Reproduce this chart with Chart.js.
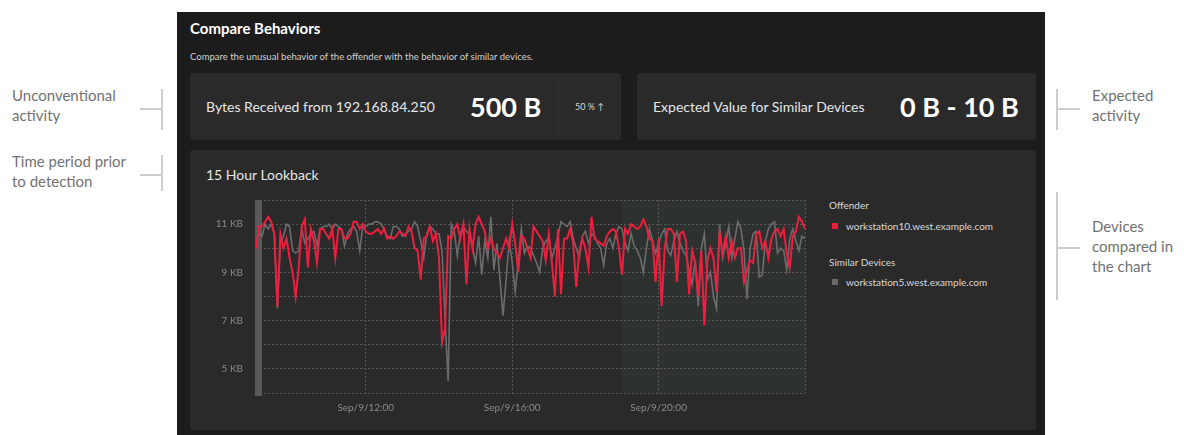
<!DOCTYPE html>
<html>
<head>
<meta charset="utf-8">
<script src="https://cdn.jsdelivr.net/npm/chart.js@4"></script>
<style>
  body { margin: 0; background: #fff; font-family: Lato, sans-serif; width: 1184px; height: 435px; overflow: hidden; position: relative; }
  .abs { position: absolute; }
  .note { color: #727272; font-size: 15px; line-height: 20px; }
  .vline { background: #cdcdcd; width: 2px; }
  .hline { background: #cdcdcd; height: 2px; }
  #panel { left: 177px; top: 12px; width: 868px; height: 423px; background: #1c1c1c; }
  .card { background: #2a2a2a; border-radius: 3px; }
  .lbl { color: #e6e6e6; font-size: 14px; }
  .big { color: #fff; font-size: 27px; font-weight: bold; }
  .leg { color: #d8d8d8; font-size: 10px; }
  .sq { width: 6px; height: 6px; }
</style>
</head>
<body>
<div class="abs note" style="left:12px;top:85px">Unconventional<br>activity</div>
<div class="abs vline" style="left:161px;top:89px;height:41px"></div>
<div class="abs hline" style="left:140px;top:108px;width:22px"></div>
<div class="abs note" style="left:12px;top:151px">Time period prior<br>to detection</div>
<div class="abs vline" style="left:161px;top:155px;height:36px"></div>
<div class="abs hline" style="left:140px;top:174px;width:22px"></div>

<div class="abs note" style="left:1092px;top:85px">Expected<br>activity</div>
<div class="abs vline" style="left:1056px;top:89px;height:41px"></div>
<div class="abs hline" style="left:1057px;top:108px;width:23px"></div>
<div class="abs note" style="left:1092px;top:216px">Devices<br>compared in<br>the chart</div>
<div class="abs vline" style="left:1056px;top:192px;height:108px"></div>
<div class="abs hline" style="left:1057px;top:247px;width:23px"></div>

<div id="panel" class="abs"></div>
<div class="abs" style="left:190px;top:19px;color:#fff;font-size:15px;font-weight:bold">Compare Behaviors</div>
<div class="abs" style="left:190px;top:51px;color:#d0d0d0;font-size:9.5px">Compare the unusual behavior of the offender with the behavior of similar devices.</div>

<div class="abs card" style="left:190px;top:73px;width:431px;height:67px"></div>
<div class="abs lbl" style="left:206px;top:98px">Bytes Received from 192.168.84.250</div>
<div class="abs big" style="left:470px;top:90px">500 B</div>
<div class="abs" style="left:558px;top:80px;width:1px;height:54px;background:#333"></div>
<div class="abs" style="left:575px;top:101px;color:#d8d8d8;font-size:9px">50 % &#8593;</div>

<div class="abs card" style="left:637px;top:73px;width:399px;height:67px"></div>
<div class="abs lbl" style="left:653px;top:98px">Expected Value for Similar Devices</div>
<div class="abs big" style="left:900px;top:90px">0 B - 10 B</div>

<div class="abs card" style="left:190px;top:150px;width:846px;height:280px"></div>
<div class="abs lbl" style="left:206px;top:166px">15 Hour Lookback</div>

<div class="abs leg" style="left:829px;top:199px">Offender</div>
<div class="abs sq" style="left:832px;top:223px;background:#e8203a"></div>
<div class="abs leg" id="name0" style="left:846px;top:220px"></div>
<div class="abs leg" style="left:829px;top:256px">Similar Devices</div>
<div class="abs sq" style="left:832px;top:279px;background:#6a6a6a"></div>
<div class="abs leg" id="name1" style="left:846px;top:276px"></div>

<div class="abs" style="left:190px;top:181px;width:630px;height:237px">
  <canvas id="lookbackChart"></canvas>
</div>

<script>
// series names
var offenderName = 'workstation10.west.example.com';
var similarName = 'workstation5.west.example.com';

// 5 minute samples, Sep 9 09:00 -> 24:00, values in KB
var startHour = 9;
var stepMinutes = 5;
var offender = [10.0,10.9,10.9,11.1,11.3,11.1,10.6,7.6,10.6,10.0, 10.4,9.6,9.0,8.0,9.2,10.9,11.2,9.2,10.8,10.3,
  9.4,10.8,10.8,10.6,10.4,10.8,9.6,10.8,10.8,10.4, 10.4,10.6,11.1,11.1,10.8,11.0,10.7,10.6,10.6,10.7,
  10.8,10.6,10.8,10.4,10.5,10.4,10.5,10.7,10.6,10.5, 10.9,10.7,10.0,9.9,8.7,10.4,10.5,10.9,10.3,10.6,
  9.6,6.1,6.7,10.5,10.4,10.8,11.0,10.4,11.0,8.5, 10.8,10.0,11.0,11.3,11.0,10.7,10.0,10.4,10.0,9.8,
  9.6,10.0,10.4,10.0,11.0,10.2,9.0,10.5,10.4,10.0, 9.6,10.9,10.7,10.5,10.3,9.5,10.6,9.4,8.0,10.8,
  8.1,10.4,10.4,10.8,10.2,8.4,9.9,10.4,10.0,9.2, 11.3,10.4,10.3,10.2,10.1,10.5,10.7,10.8,10.7,10.0,
  8.9,10.8,10.6,11.0,10.9,10.8,10.9,11.2,10.9,10.4, 10.3,8.6,10.4,7.6,10.0,10.8,10.8,10.6,8.6,10.6,
  10.7,10.3,8.1,9.9,9.4,8.0,9.9,6.8,9.5,10.0, 9.6,8.2,10.6,9.8,10.5,9.6,10.3,9.6,10.0,10.0,
  8.6,9.1,9.5,9.4,10.6,10.7,10.0,10.3,9.6,10.4, 10.7,10.8,10.5,10.8,9.8,9.2,10.5,10.7,11.3,11.1,
  10.8];
var similar = [10.3,10.6,10.5,11.0,10.8,11.0,10.6,7.5,10.2,10.5, 11.0,10.9,9.9,9.8,9.9,10.8,10.2,10.4,10.6,10.7,
  10.1,10.8,10.9,10.9,11.0,10.8,11.0,10.9,10.8,10.1, 10.6,10.8,10.9,10.7,9.9,10.9,10.9,11.0,11.0,11.1,
  11.1,11.0,10.8,10.5,10.4,10.9,10.9,10.8,10.5,10.6, 10.7,10.8,11.1,10.9,10.3,9.6,10.6,10.9,10.8,10.6,
  10.6,9.9,7.0,4.5,11.0,10.7,9.7,10.6,10.9,10.7, 10.6,10.0,9.4,10.5,8.9,10.3,9.6,11.3,9.1,10.2,
  8.7,7.2,8.7,10.3,9.4,8.2,9.5,10.8,9.8,10.1, 10.0,9.7,9.4,9.0,10.0,10.3,10.4,9.6,10.0,10.5,
  11.1,11.0,10.9,11.1,10.4,10.0,9.6,10.5,10.7,10.2, 10.6,10.5,10.2,10.0,9.3,10.2,10.4,10.0,10.6,10.9,
  10.8,10.2,9.9,10.6,10.1,9.9,9.6,9.0,10.0,10.8, 10.3,9.8,10.2,10.6,10.8,9.9,9.7,10.3,10.7,10.2,
  9.9,9.7,9.1,8.5,9.5,7.6,10.0,10.6,8.7,9.0, 8.0,7.5,11.0,9.6,10.2,10.9,9.6,10.4,11.1,10.8,
  9.9,7.9,10.0,10.6,10.7,8.8,8.9,10.3,10.8,11.0, 11.1,9.8,10.0,9.9,9.1,10.4,10.8,10.3,9.9,10.5,
  10.4];

// axis ticks (hours of Sep 9)
var tickHours = [9, 12, 16, 20, 24];
var labelHours = [12, 16, 20];
var detectionStart = 19;
var yTicks = [4, 5, 6, 7, 8, 9, 10, 11, 12];
var yLabels = [5, 7, 9, 11];

document.getElementById('name0').textContent = offenderName;
document.getElementById('name1').textContent = similarName;

var times = offender.map(function (v, i) { return startHour + i * stepMinutes / 60; });
function pts(arr) { return arr.map(function (v, i) { return { x: times[i], y: v }; }); }

// shaded detection window + gray bar at the start of the lookback
var bandsPlugin = {
  id: 'bands',
  beforeDraw: function (chart) {
    var a = chart.chartArea, x = chart.scales.x, ctx = chart.ctx;
    var x0 = x.getPixelForValue(detectionStart);
    ctx.save();
    ctx.fillStyle = '#2d3231';
    ctx.fillRect(x0, a.top, a.right - x0, a.bottom - a.top);
    ctx.restore();
  },
  beforeDatasetsDraw: function (chart) {
    var a = chart.chartArea, x = chart.scales.x, ctx = chart.ctx;
    var x0 = x.getPixelForValue(startHour);
    ctx.save();
    ctx.fillStyle = '#5a5a5a';
    ctx.fillRect(x0 - 1, a.top, 7, a.bottom - a.top + 3);
    ctx.restore();
  }
};

var ctx = document.getElementById('lookbackChart').getContext('2d');
var lookbackChart = new Chart(ctx, {
  type: 'line',
  data: {
    datasets: [{
      label: offenderName,
      data: pts(offender),
      borderColor: '#ee1f3e',
      borderWidth: 2,
      pointRadius: 0,
      tension: 0
    }, {
      label: similarName,
      data: pts(similar),
      borderColor: '#6c6c6c',
      borderWidth: 1.6,
      pointRadius: 0,
      tension: 0
    }]
  },
  options: {
    responsive: true,
    maintainAspectRatio: false,
    animation: false,
    layout: { padding: { top: 4, right: 15 } },
    plugins: { legend: { display: false }, tooltip: { enabled: false } },
    scales: {
      x: {
        type: 'linear',
        min: 9,
        max: 24,
        afterBuildTicks: function (s) { s.ticks = tickHours.map(function (h) { return { value: h }; }); },
        afterFit: function (s) { s.height = 25; },
        grid: { color: '#585858', drawTicks: false },
        border: { display: false, dash: [2, 2] },
        ticks: {
          color: '#8a8a8a',
          font: { family: 'Lato', size: 10 },
          padding: 9,
          maxRotation: 0,
          callback: function (v) { return labelHours.indexOf(v) >= 0 ? 'Sep/9/' + v + ':00' : ''; }
        }
      },
      y: {
        min: 4,
        max: 12,
        afterBuildTicks: function (s) { s.ticks = yTicks.map(function (v) { return { value: v }; }); },
        afterFit: function (s) { s.width = 66; },
        grid: { color: '#585858', drawTicks: false },
        border: { display: false, dash: [2, 2] },
        ticks: {
          color: '#8a8a8a',
          font: { family: 'Lato', size: 10 },
          padding: 13,
          callback: function (v) { return yLabels.indexOf(v) >= 0 ? v + ' KB' : ''; }
        }
      }
    }
  },
  plugins: [bandsPlugin]
});
</script>
</body>
</html>
